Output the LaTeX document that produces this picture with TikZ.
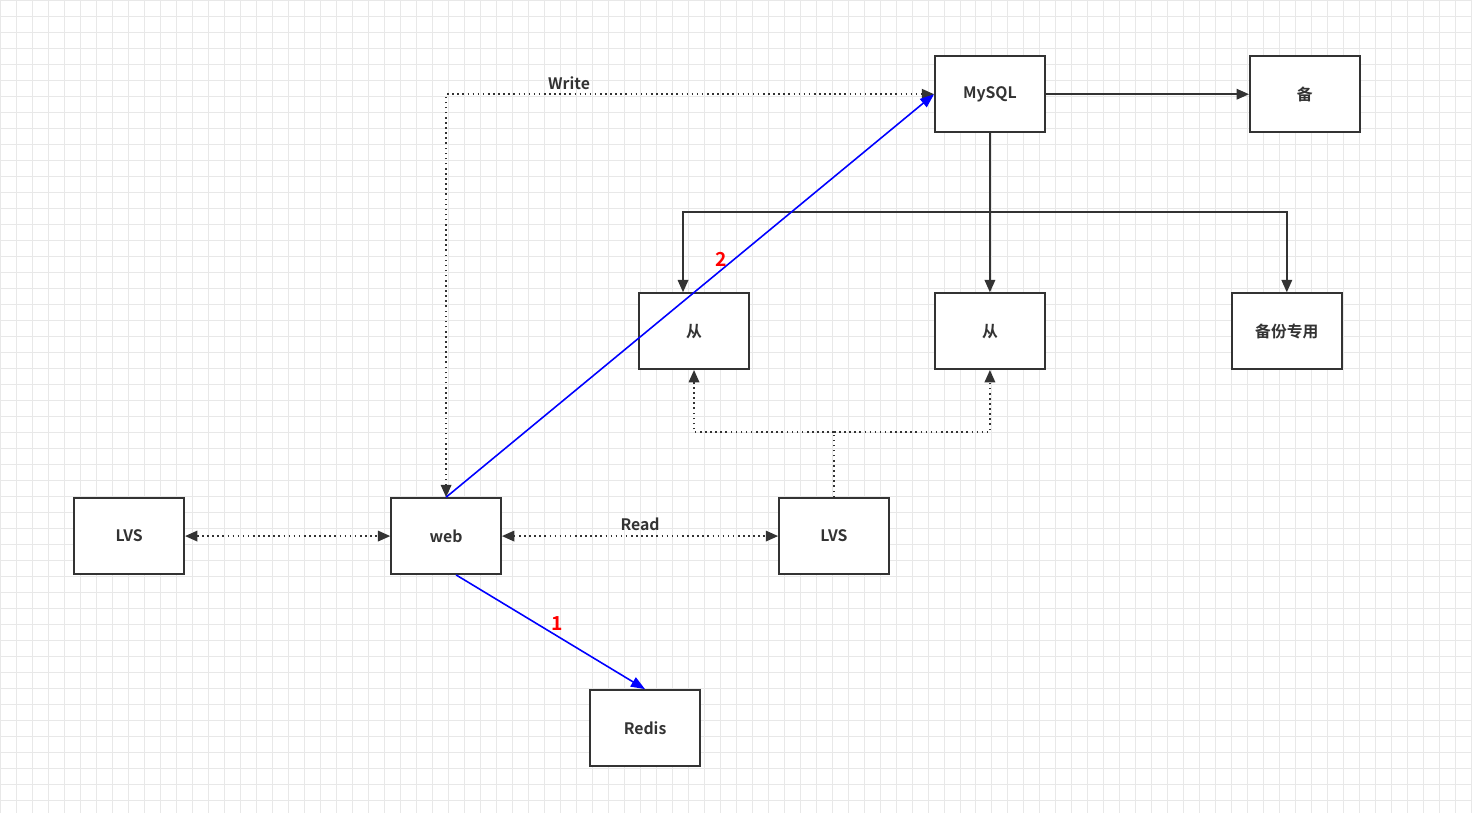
\documentclass[tikz,border=0pt]{standalone}
\usepackage{fontspec}
\setmainfont{Noto Sans CJK SC}[BoldFont={* Bold}]
\usetikzlibrary{arrows.meta}
\definecolor{boxcol}{RGB}{51,51,51}
\definecolor{gridcol}{RGB}{232,232,232}
\tikzset{
  box/.style={draw=boxcol, line width=1pt, fill=white, minimum width=2.2cm, minimum height=1.52cm, inner sep=0pt, font=\fontsize{9}{11}\selectfont\bfseries, text=boxcol},
  link/.style={draw=boxcol, line width=0.9pt, -{Triangle[length=7pt,width=6pt]}},
  dots/.style={draw=boxcol, line width=0.9pt, dotted, {Triangle[length=7pt,width=6pt]}-{Triangle[length=7pt,width=6pt]}},
  fast/.style={draw=blue, line width=0.9pt, -{Triangle[length=8pt,width=6pt]}},
  lbl/.style={font=\fontsize{9}{11}\selectfont\bfseries, text=boxcol},
  num/.style={font=\fontsize{11}{13}\selectfont\bfseries, text=red}
}
\begin{document}
\begin{tikzpicture}[x=0.02cm, y=-0.02cm]
    % background grid
    \fill[white] (0,0) rectangle (1472,813);
    \draw[gridcol, line width=0.3pt, step=0.32cm] (0,0) grid (1472,813);
    \useasboundingbox (0,0) rectangle (1472,813);

    % boxes
    \node[box] (mysql) at (990,94) {MySQL};
    \node[box] (bak) at (1305,94) {备};
    \node[box] (slave1) at (694,331) {从};
    \node[box] (slave2) at (990,331) {从};
    \node[box] (bakonly) at (1287,331) {备份专用};
    \node[box] (lvsA) at (129,536) {LVS};
    \node[box] (web) at (446,536) {web};
    \node[box] (lvsB) at (834,536) {LVS};
    \node[box] (redis) at (645,728) {Redis};

    % replication
    \draw[link] (mysql) -- (bak);
    \draw[link] (mysql) -- (slave2);
    \coordinate (split) at (990,212);
    \draw[link] (split) -| ([xshift=-0.22cm]slave1.north);
    \draw[link] (split) -| (bakonly.north);

    % write / read paths
    \draw[dots] (web.north) |- node[lbl, pos=0.626, above=-1pt] {Write} (mysql.west);
    \draw[dots] (lvsA) -- (web);
    \draw[dots] (web) -- node[lbl, above=-1pt] {Read} (lvsB);
    \coordinate (fork) at (834,432);
    \draw[draw=boxcol, line width=0.9pt, dotted] (lvsB.north) -- (fork);
    \draw[draw=boxcol, line width=0.9pt, dotted, -{Triangle[length=7pt,width=6pt]}] (fork) -| (slave1.south);
    \draw[draw=boxcol, line width=0.9pt, dotted, -{Triangle[length=7pt,width=6pt]}] (fork) -| (slave2.south);

    % request order
    \draw[fast] ([xshift=0.2cm]web.south) -- node[num, above right=-3pt] {1} (redis.north);
    \draw[fast] (web.north) -- node[num, pos=0.56, above left=-1pt, xshift=0.25cm] {2} (mysql.west);
\end{tikzpicture}
\end{document}
